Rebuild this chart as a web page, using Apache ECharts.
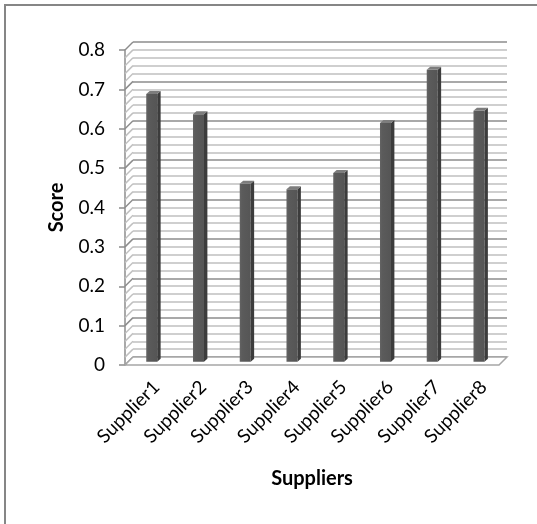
<!DOCTYPE html>
<html>
<head>
<meta charset="utf-8">
<script src="https://cdn.jsdelivr.net/npm/echarts@6/dist/echarts.min.js"></script>
<style>
  html, body { margin: 0; padding: 0; background: #fff; }
  #chart { width: 537px; height: 524px; }
</style>
</head>
<body>
<div id="chart"></div>
<script>
// Supplier scores
const categories = ['Supplier1', 'Supplier2', 'Supplier3', 'Supplier4', 'Supplier5', 'Supplier6', 'Supplier7', 'Supplier8'];
const scores = [0.68, 0.628, 0.452, 0.438, 0.479, 0.606, 0.741, 0.637];
const yTickLabels = ['0', '0.1', '0.2', '0.3', '0.4', '0.5', '0.6', '0.7', '0.8'];

const Y_MIN = 0, Y_MAX = 0.8, Y_STEP = 0.1, Y_MINOR = 0.02;
// depth of the pseudo-3D box (front plane -> back wall)
const DEPTH_X = 8, DEPTH_Y = -8;
const FONT = 'Lato, "Open Sans", sans-serif';

const chart = echarts.init(document.getElementById('chart'));

// left wall hatching + floor, drawn in front-plane coordinates
function renderWalls(params, api) {
  const children = [];
  const n = Math.round((Y_MAX - Y_MIN) / Y_MINOR);
  for (let i = 0; i <= n; i++) {
    const v = Y_MIN + i * Y_MINOR;
    const p = api.coord([0, v]);
    const x0 = params.coordSys.x;
    const major = i % 5 === 0;
    children.push({
      type: 'line',
      shape: { x1: x0, y1: p[1], x2: x0 + DEPTH_X, y2: p[1] + DEPTH_Y },
      style: { stroke: major ? '#8c8c8c' : '#c0c0c0', lineWidth: 1.5 }
    });
  }
  const cs = params.coordSys;
  const yb = api.coord([0, Y_MIN])[1];
  children.push({
    type: 'polygon',
    shape: { points: [[cs.x, yb], [cs.x + cs.width, yb], [cs.x + cs.width + DEPTH_X, yb + DEPTH_Y], [cs.x + DEPTH_X, yb + DEPTH_Y]] },
    style: { fill: '#ffffff', stroke: '#a6a6a6', lineWidth: 1.5 }
  });
  return { type: 'group', children: children };
}

// 3D column: front face, right side face, top face; placed mid-depth
function renderBar(params, api) {
  const base = api.coord([api.value(0), Y_MIN]);
  const top = api.coord([api.value(0), api.value(1)]);
  const ox = DEPTH_X * 0.42, oy = DEPTH_Y * 0.42;
  const w = 11, dx = 3.4, dy = -3;
  const xl = base[0] + ox - w / 2, xr = xl + w;
  const yt = top[1] + oy, yb = base[1] + oy;
  return {
    type: 'group',
    children: [
      { type: 'rect', shape: { x: xl, y: yt, width: w, height: yb - yt },
        style: { fill: { type: 'linear', x: 0, y: 0, x2: 1, y2: 0,
          colorStops: [{ offset: 0, color: '#646464' }, { offset: 0.2, color: '#5b5b5b' }, { offset: 1, color: '#555555' }] } } },
      { type: 'polygon', shape: { points: [[xr, yt], [xr + dx, yt + dy], [xr + dx, yb + dy], [xr, yb]] },
        style: { fill: '#3c3c3c' } },
      { type: 'polygon', shape: { points: [[xl, yt], [xl + dx, yt + dy], [xr + dx, yt + dy], [xr, yt]] },
        style: { fill: '#7d7d7d' } }
    ]
  };
}

chart.setOption({
  animation: false,
  backgroundColor: '#ffffff',
  graphic: [{
    type: 'rect', silent: true, z: 100,
    shape: { x: 5, y: 5, width: 600, height: 600 },
    style: { fill: 'none', stroke: '#868686', lineWidth: 2 }
  }],
  grid: [
    // front plane: axes, bars
    { left: 125, right: 38, top: 50, bottom: 159 },
    // back wall: gridlines, category labels
    { left: 133, right: 30, top: 42, bottom: 167 }
  ],
  xAxis: [{
    gridIndex: 0,
    type: 'category',
    data: categories,
    name: 'Suppliers',
    nameLocation: 'middle',
    nameGap: 104,
    nameTextStyle: { fontFamily: FONT, fontSize: 20, fontWeight: 'bold', color: '#000' },
    axisLine: { show: false },
    axisTick: { show: false },
    axisLabel: { show: false }
  }, {
    gridIndex: 1,
    type: 'category',
    data: categories,
    axisLine: { show: false },
    axisTick: { show: false },
    axisLabel: { rotate: 45, margin: 27, fontFamily: FONT, fontSize: 19, color: '#000', interval: 0 }
  }],
  yAxis: [{
    gridIndex: 0,
    type: 'value',
    min: Y_MIN, max: Y_MAX, interval: Y_STEP,
    name: 'Score',
    nameLocation: 'middle',
    nameGap: 58,
    nameTextStyle: { fontFamily: FONT, fontSize: 20, fontWeight: 'bold', color: '#000' },
    axisLine: { show: true, lineStyle: { color: '#8c8c8c', width: 1.5 } },
    axisTick: { show: true, length: 6, lineStyle: { color: '#8c8c8c', width: 1.5 } },
    splitLine: { show: false },
    axisLabel: {
      margin: 20, fontFamily: FONT, fontSize: 19, color: '#000',
      formatter: (v) => yTickLabels[Math.round((v - Y_MIN) / Y_STEP)]
    }
  }, {
    gridIndex: 1,
    type: 'value',
    min: Y_MIN, max: Y_MAX, interval: Y_STEP,
    axisLine: { show: false },
    axisTick: { show: false },
    axisLabel: { show: false },
    splitLine: { show: true, lineStyle: { color: '#8c8c8c', width: 1.5 } },
    minorTick: { show: false, splitNumber: 5 },
    minorSplitLine: { show: true, lineStyle: { color: '#c0c0c0', width: 1.5 } }
  }],
  series: [{
    type: 'custom',
    xAxisIndex: 0, yAxisIndex: 0,
    renderItem: renderWalls,
    data: [[0, 0]],
    silent: true,
    z: 1
  }, {
    type: 'custom',
    xAxisIndex: 0, yAxisIndex: 0,
    renderItem: renderBar,
    encode: { x: 0, y: 1 },
    data: categories.map((c, i) => [i, scores[i]]),
    z: 5
  }]
});
</script>
</body>
</html>
